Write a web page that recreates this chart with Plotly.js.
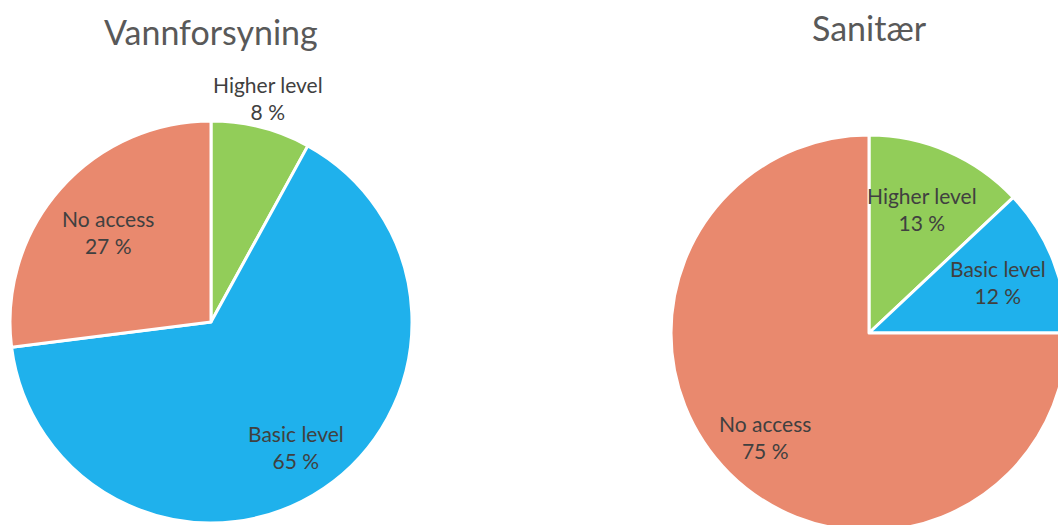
<!DOCTYPE html>
<html>
<head>
<meta charset="utf-8">
<script src="https://cdn.plot.ly/plotly-3.0.1.min.js"></script>
<style>
html,body{margin:0;padding:0;overflow:hidden;background:#fff;width:1058px;height:525px;}
#chart{position:absolute;left:0;top:0;}
</style>
</head>
<body>
<div id="chart"></div>
<script>
const categories = ["Higher level", "Basic level", "No access"];
const waterValues = [8, 65, 27];
const sanitationValues = [13, 12, 75];
const chartTitles = ["Vannforsyning", "Sanitær"];
const sliceColors = ["#92CD59", "#1FB1EC", "#E9896E"];

const W = 1080, H = 540;
const FONT = "Lato, 'Open Sans', sans-serif";
// pie boxes in pixels (left, right, top, bottom)
const pieBoxes = [[10, 412, 121, 523], [671, 1067, 135, 531]];
// label distance from centre, as a fraction of the radius (style)
const labelRadius = [[1.15, 0.75, 0.68], [0.68, 0.7, 0.74]];

function dom(b) {
  return {x: [b[0] / W, b[1] / W], y: [(H - b[3]) / H, (H - b[2]) / H]};
}

function makePie(values, box) {
  return {
    type: "pie", values: values, labels: categories, sort: false,
    direction: "clockwise", rotation: 0,
    marker: {colors: sliceColors, line: {color: "#ffffff", width: 3}},
    textinfo: "none",
    domain: dom(box), hoverinfo: "label+value", showlegend: false
  };
}

function pieLabels(values, box, radii) {
  const cx = (box[0] + box[1]) / 2, cy = (box[2] + box[3]) / 2;
  const r = Math.min(box[1] - box[0], box[3] - box[2]) / 2;
  const total = values.reduce((a, b) => a + b, 0);
  let cum = 0;
  return values.map((v, i) => {
    const mid = (cum + v / 2) / total * 2 * Math.PI;
    cum += v;
    const px = cx + Math.sin(mid) * r * radii[i];
    const py = cy - Math.cos(mid) * r * radii[i];
    return {
      text: categories[i] + "<br>" + v + " %",
      x: px / W, y: (H - py) / H, xref: "paper", yref: "paper",
      xanchor: "center", yanchor: "middle", showarrow: false,
      font: {family: FONT, size: 21, color: "#404040"}
    };
  });
}

const traces = [makePie(waterValues, pieBoxes[0]), makePie(sanitationValues, pieBoxes[1])];

const titleAnn = [
  {text: chartTitles[0], x: 211 / W, y: (H - 32) / H},
  {text: chartTitles[1], x: 869 / W, y: (H - 28) / H}
].map(a => Object.assign(a, {
  xref: "paper", yref: "paper", xanchor: "center", yanchor: "middle", showarrow: false,
  font: {family: FONT, size: 34, color: "#595959"}
}));

const layout = {
  width: W, height: H,
  margin: {l: 0, r: 0, t: 0, b: 0},
  paper_bgcolor: "#ffffff",
  showlegend: false,
  annotations: titleAnn
    .concat(pieLabels(waterValues, pieBoxes[0], labelRadius[0]))
    .concat(pieLabels(sanitationValues, pieBoxes[1], labelRadius[1]))
};

Plotly.newPlot("chart", traces, layout, {displayModeBar: false, staticPlot: true});
</script>
</body>
</html>
